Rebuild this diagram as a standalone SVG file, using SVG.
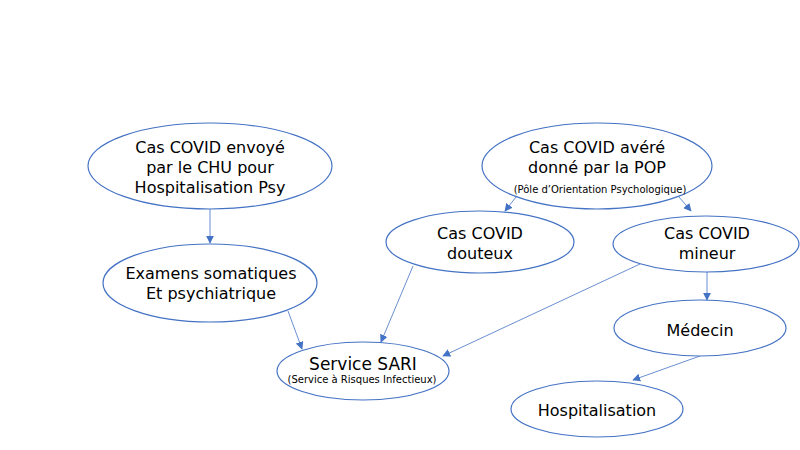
<svg xmlns="http://www.w3.org/2000/svg" width="800" height="450" viewBox="0 0 800 450">
<defs>
<style>
.n{fill:#fff;stroke:#4472C4;stroke-width:1.2}
.t{font-family:"DejaVu Sans",Verdana,sans-serif;font-size:16px;fill:#000;text-anchor:middle}
.s{font-family:"DejaVu Sans",Verdana,sans-serif;font-size:10px;fill:#000;text-anchor:middle}
.c{stroke:#4472C4;stroke-width:0.8;fill:none;marker-end:url(#a)}
</style>
<marker id="a" viewBox="0 0 10 10" refX="9" refY="5" markerWidth="8" markerHeight="8" orient="auto" markerUnits="userSpaceOnUse">
<path d="M0,0 L10,5 L0,10 z" fill="#4472C4"/>
</marker>
</defs>
<rect width="800" height="450" fill="#fff"/>
<g id="connectors">
<line class="c" x1="210" y1="209" x2="210" y2="243"/>
<line class="c" x1="516" y1="197" x2="505" y2="211"/>
<line class="c" x1="679" y1="197" x2="691" y2="211"/>
<line class="c" x1="288" y1="311" x2="302" y2="349"/>
<line class="c" x1="413" y1="266" x2="381" y2="342"/>
<line class="c" x1="640" y1="264" x2="443" y2="356"/>
<line class="c" x1="707" y1="272" x2="707" y2="300"/>
<line class="c" x1="700" y1="356" x2="633" y2="380"/>
</g>
<g id="n1">
<ellipse class="n" cx="210" cy="166" rx="122" ry="43"/>
<text class="t" x="210" y="153">Cas COVID envoyé</text>
<text class="t" x="210" y="173">par le CHU pour</text>
<text class="t" x="210" y="193">Hospitalisation Psy</text>
</g>
<g id="n2">
<ellipse class="n" cx="210" cy="283" rx="107" ry="39"/>
<text class="t" x="211" y="279">Examens somatiques</text>
<text class="t" x="211" y="299">Et psychiatrique</text>
</g>
<g id="n3">
<ellipse class="n" cx="597" cy="166" rx="115" ry="43"/>
<text class="t" x="597" y="153">Cas COVID avéré</text>
<text class="t" x="597" y="173">donné par la POP</text>
<text class="s" x="600" y="193">(Pôle d’Orientation Psychologique)</text>
</g>
<g id="n4">
<ellipse class="n" cx="480" cy="242" rx="94" ry="31"/>
<text class="t" x="480" y="239">Cas COVID</text>
<text class="t" x="480" y="259">douteux</text>
</g>
<g id="n5">
<ellipse class="n" cx="706" cy="244" rx="93" ry="28"/>
<text class="t" x="707" y="239">Cas COVID</text>
<text class="t" x="707" y="259">mineur</text>
</g>
<g id="n6">
<ellipse class="n" cx="363" cy="371" rx="86" ry="29"/>
<text class="t" x="363" y="370" style="font-size:17px">Service SARI</text>
<text class="s" x="362" y="383">(Service à Risques Infectieux)</text>
</g>
<g id="n7">
<ellipse class="n" cx="700" cy="328" rx="86" ry="28"/>
<text class="t" x="700" y="336">Médecin</text>
</g>
<g id="n8">
<ellipse class="n" cx="597" cy="409" rx="86" ry="28"/>
<text class="t" x="597" y="416">Hospitalisation</text>
</g>
</svg>
